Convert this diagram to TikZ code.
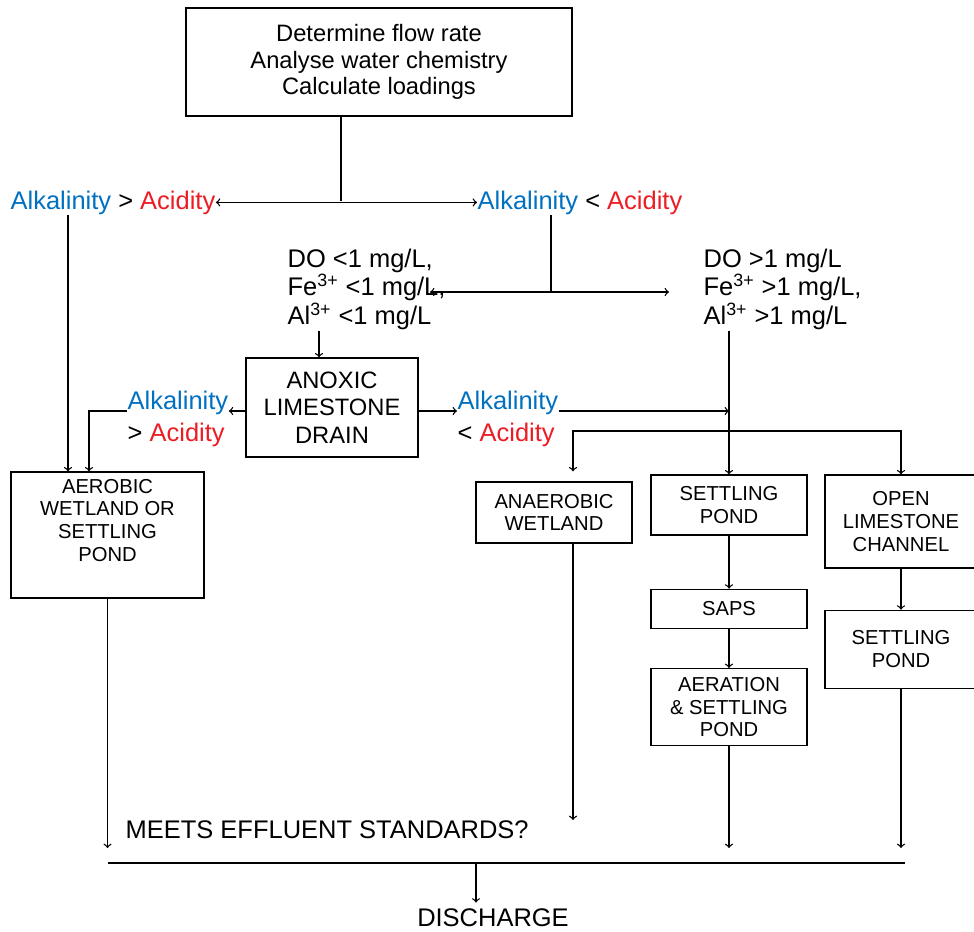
\documentclass[tikz,border=0pt]{standalone}
\usepackage{fontspec}
\setmainfont{Liberation Sans}
\usepackage{xcolor}
\usepackage{tikz}
\usetikzlibrary{positioning}
\definecolor{alkblue}{RGB}{0,112,192}
\definecolor{acidred}{RGB}{237,28,36}
\newcommand{\alk}{\textcolor{alkblue}{Alkalinity}}
\newcommand{\acid}{\textcolor{acidred}{Acidity}}

\begin{document}
\begin{tikzpicture}[x=0.02cm, y=-0.02cm, line width=0.75pt,
  box/.style={draw, rectangle, align=center, inner sep=0pt, font=\fontsize{11.5}{12.9}\selectfont},
  big/.style={inner sep=0pt, font=\fontsize{14.5}{16.4}\selectfont}]
\useasboundingbox (0,0) rectangle (974,931);

% Start box
\node[draw, align=center, minimum width=7.72cm, minimum height=2.16cm, font=\fontsize{13.5}{15}\selectfont] (start) at (379,62) {Determine flow rate\\Analyse water chemistry\\Calculate loadings};

% Alkalinity vs acidity
\node[big, anchor=base west] (geL) at (10,209) {\alk{} > \acid};
\node[big, anchor=base west] (ltR) at (477,209) {\alk{} < \acid};

% DO and metals
\node[big, align=left, anchor=north west] (doL) at (287,248) {DO <1 mg/L,\\Fe\textsuperscript{3+} <1 mg/L,\\Al\textsuperscript{3+} <1 mg/L};
\node[big, align=left, anchor=north west] (doR) at (703,248) {DO >1 mg/L\\Fe\textsuperscript{3+} >1 mg/L,\\Al\textsuperscript{3+} >1 mg/L};

% Anoxic limestone drain
\node[draw, align=center, minimum width=3.44cm, minimum height=1.98cm, font=\fontsize{13.5}{15.6}\selectfont] (ald) at (332,407.5) {ANOXIC\\LIMESTONE\\DRAIN};
\node[big, align=left, anchor=west, font=\fontsize{14.5}{18}\selectfont] (geM) at (127,419) {\alk\\> \acid};
\node[big, align=left, anchor=west, font=\fontsize{14.5}{18}\selectfont] (ltM) at (457,419) {\alk\\< \acid};

% Treatment boxes
\node[box, minimum width=3.86cm, minimum height=2.52cm] (aerobic) at (107.5,535) {AEROBIC\\WETLAND OR\\SETTLING\\POND\\[4pt]};
\node[box, minimum width=3.12cm, minimum height=1.22cm] (anaer) at (554,512.5) {ANAEROBIC\\WETLAND};
\node[box, minimum width=3.12cm, minimum height=1.2cm] (settle1) at (729,505) {SETTLING\\POND};
\node[box, minimum width=3.04cm, minimum height=1.86cm] (olc) at (901,521.5) {OPEN\\LIMESTONE\\CHANNEL};
\node[box, minimum width=3.12cm, minimum height=0.78cm, below=1.06cm of settle1] (saps) {SAPS};
\node[box, minimum width=3.12cm, minimum height=1.54cm, below=0.78cm of saps] (aeration) {AERATION\\\& SETTLING\\POND};
\node[box, minimum width=3.04cm, minimum height=1.56cm, below=0.82cm of olc] (settle2) {SETTLING\\POND};

% Bottom
\coordinate (barL) at (108,863);
\coordinate (barR) at (905,863);
\node[big, anchor=base west] (meets) at (125,838) {MEETS EFFLUENT STANDARDS?};
\node[big, anchor=base] (discharge) at (493,926) {DISCHARGE};

% Connections
\coordinate (split1) at (341,201);
\draw (split1 |- start.south) -- (split1);
\draw[<->] (geL.east) -- (ltR.west);
\coordinate (split2) at (551,292);
\draw (split2 |- ltR.south) -- (split2);
\draw[<->] ([xshift=-2.42cm]split2) -- ([xshift=2.36cm]split2);
\draw[->] ([xshift=-0.26cm]ald.north |- doL.south) -- ([xshift=-0.26cm]ald.north);
\draw[->] (doR.south -| settle1.north) -- (settle1.north);

\coordinate (inA) at ([xshift=-0.79cm]aerobic.north);
\coordinate (inB) at ([xshift=-0.37cm]aerobic.north);
\coordinate (drL) at ([yshift=-0.07cm]ald.west);
\coordinate (drR) at ([yshift=-0.07cm]ald.east);
\draw[->] (inA |- geL.south) -- (inA);
\draw[->] (drL) -- (drL -| geM.east);
\draw[->] (geM.west |- drL) -| (inB);

\draw[->] (drR) -- (drR -| ltM.west);
\draw[->] (ltM.east |- drR) -- (drR -| settle1.north);
\coordinate (fork) at (729,431);
\draw[->, shorten >=0.2cm] (fork) -| ([xshift=0.38cm]anaer.north);
\draw[->] (fork) -| (olc.north);
\draw[->] (settle1) -- (saps);
\draw[->] (saps) -- (aeration);
\draw[->] (olc) -- (settle2);

\draw[line width=1.2pt] (barL) -- (barR);
\foreach \i in {aerobic,aeration,settle2}
    \draw[->] (\i.south) -- ([yshift=0.3cm]\i.south |- barL);
\draw[->] ([xshift=0.38cm]anaer.south) -- ([xshift=0.38cm, yshift=0.86cm]anaer.south |- barL);
\draw[->] ([xshift=-0.34cm]discharge.north |- barL) -- ([xshift=-0.34cm, yshift=0.1cm]discharge.north);
\end{tikzpicture}
\end{document}
